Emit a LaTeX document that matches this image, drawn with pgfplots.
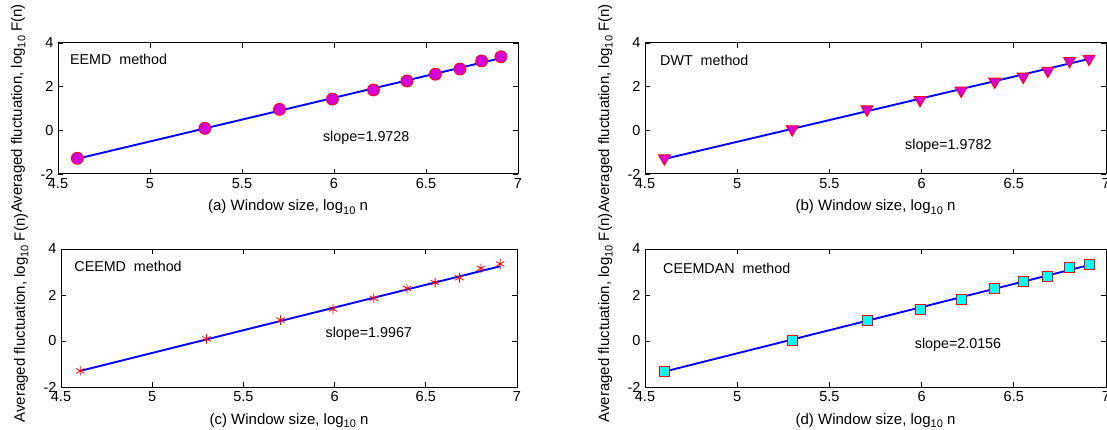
\documentclass[border=0pt]{standalone}
\usepackage{fontspec}
\setmainfont{Liberation Sans}
\usepackage{pgfplots}
\pgfplotsset{compat=1.18}
\definecolor{mag}{RGB}{215,0,215}
\definecolor{lineblue}{RGB}{0,0,255}
\definecolor{mred}{RGB}{255,0,0}
\definecolor{mcyan}{RGB}{0,255,255}
\newcommand{\sub}[1]{\raisebox{-3.5bp}{\fontsize{11bp}{12bp}\selectfont #1}}
\tikzset{ann/.style={font=\fontsize{14.3bp}{17bp}\selectfont, inner sep=0pt}}
\pgfplotsset{
  dfa/.style={
    scale only axis,
    xmin=4.5, xmax=7, ymin=-2, ymax=4,
    xtick={4.5,5,5.5,6,6.5,7}, xticklabels={4.5,5,5.5,6,6.5,7},
    ytick={-2,0,2,4}, yticklabels={-2,0,2,4},
    tick align=inside, major tick length=5bp,
    axis line style={line width=1bp},
    every tick/.style={black, line width=0.8bp},
    /pgf/number format/assume math mode=true,
    tick label style={font=\fontsize{14.5bp}{17bp}\selectfont},
    xticklabel style={yshift=-1bp},
    yticklabel style={xshift=-1bp},
    label style={font=\fontsize{15bp}{18bp}\selectfont},
    xlabel style={at={(axis description cs:0.5,0)}, anchor=base, yshift=-37bp},
    ylabel style={at={(axis description cs:0,0.5)}, anchor=base, yshift=36bp},
    ylabel={Averaged fluctuation, log\sub{10} F(n)},
    clip=false,
  },
  fitline/.style={lineblue, line width=1.9bp, no marks},
}
\begin{document}
\begin{tikzpicture}
\useasboundingbox (0,0) rectangle (1107bp,430bp);
% (a)
\begin{axis}[dfa, at={(58bp,256bp)}, anchor=south west, width=460bp, height=131bp,
  xlabel={(a) Window size, log\sub{10} n}]
\addplot[fitline] coordinates {(4.6052,-1.30) (6.9078,3.31)};
\addplot[only marks, mark=*, mark size=6bp, mark options={fill=mag, draw=mred, line width=0.8bp}]
coordinates {(4.6052,-1.28) (5.2983,0.09) (5.7038,0.96) (5.9915,1.43) (6.2146,1.85) (6.3969,2.26) (6.5511,2.57) (6.6846,2.81) (6.8024,3.18) (6.9078,3.37)};
\node[ann, anchor=west] at (axis description cs:0.026,0.878) {EEMD\ \ method};
\node[ann] at (axis description cs:0.670,0.275) {slope=1.9728};
\end{axis}
% (b)
\begin{axis}[dfa, at={(645bp,256bp)}, anchor=south west, width=461bp, height=131bp,
  xlabel={(b) Window size, log\sub{10} n}]
\addplot[fitline] coordinates {(4.6052,-1.31) (6.9078,3.27)};
\addplot[only marks, mark=triangle*, mark size=7bp, mark options={fill=mag, draw=mred, line width=0.8bp, rotate=180}]
coordinates {(4.6052,-1.28) (5.2983,0.05) (5.7038,0.96) (5.9915,1.39) (6.2146,1.82) (6.3969,2.23) (6.5511,2.46) (6.6846,2.73) (6.8024,3.18) (6.9078,3.28)};
\node[ann, anchor=west] at (axis description cs:0.0325,0.865) {DWT\ \ method};
\node[ann] at (axis description cs:0.658,0.214) {slope=1.9782};
\end{axis}
% (c)
\begin{axis}[dfa, at={(61bp,43bp)}, anchor=south west, width=456bp, height=138bp,
  xlabel={(c) Window size, log\sub{10} n}]
\addplot[fitline] coordinates {(4.6052,-1.30) (6.9078,3.25)};
\addplot[only marks, mark=asterisk, mark size=4.8bp, mark options={draw=mred, line width=0.8bp}]
coordinates {(4.6052,-1.30) (5.2983,0.09) (5.7038,0.91) (5.9915,1.39) (6.2146,1.86) (6.3969,2.29) (6.5511,2.54) (6.6846,2.75) (6.8024,3.16) (6.9078,3.35)};
\node[ann, anchor=west] at (axis description cs:0.029,0.877) {CEEMD\ \ method};
\node[ann] at (axis description cs:0.675,0.389) {slope=1.9967};
\end{axis}
% (d)
\begin{axis}[dfa, at={(645bp,43bp)}, anchor=south west, width=461bp, height=138bp,
  xlabel={(d) Window size, log\sub{10} n}]
\addplot[fitline] coordinates {(4.6052,-1.33) (6.9078,3.30)};
\addplot[only marks, mark=square*, mark size=5bp, mark options={fill=mcyan, draw=mred, line width=0.8bp}]
coordinates {(4.6052,-1.33) (5.2983,0.03) (5.7038,0.90) (5.9915,1.39) (6.2146,1.83) (6.3969,2.29) (6.5511,2.58) (6.6846,2.80) (6.8024,3.20) (6.9078,3.35)};
\node[ann, anchor=west] at (axis description cs:0.039,0.86) {CEEMDAN\ \ method};
\node[ann] at (axis description cs:0.679,0.304) {slope=2.0156};
\end{axis}
\end{tikzpicture}
\end{document}
